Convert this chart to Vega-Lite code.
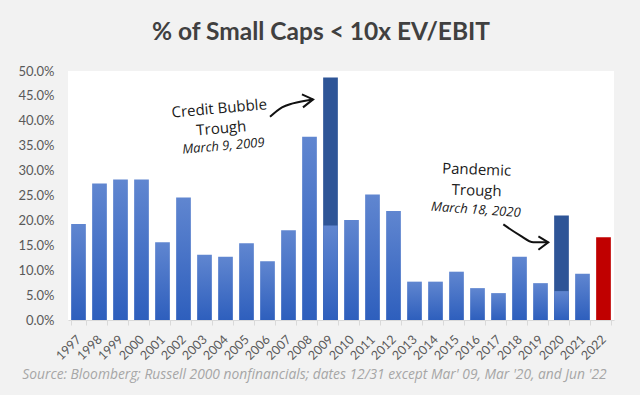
{
  "$schema": "https://vega.github.io/schema/vega-lite/v6.json",
  "width": 546,
  "height": 249,
  "autosize": {"type": "none"},
  "padding": {"left": 68, "top": 71, "right": 26, "bottom": 75},
  "background": "#f2f2f2",
  "config": {"view": {"fill": "white", "stroke": null}, "font": "Lato"},
  "title": {"text": "% of Small Caps < 10x EV/EBIT", "font": "Lato", "fontSize": 24.5, "fontWeight": "bold", "color": "#404040", "anchor": "middle", "dx": -20, "offset": 20},
  "datasets": {
    "bars": [
      {"year": "1997", "value": 0.193, "kind": "year-end"},
      {"year": "1998", "value": 0.274, "kind": "year-end"},
      {"year": "1999", "value": 0.282, "kind": "year-end"},
      {"year": "2000", "value": 0.282, "kind": "year-end"},
      {"year": "2001", "value": 0.156, "kind": "year-end"},
      {"year": "2002", "value": 0.246, "kind": "year-end"},
      {"year": "2003", "value": 0.131, "kind": "year-end"},
      {"year": "2004", "value": 0.127, "kind": "year-end"},
      {"year": "2005", "value": 0.154, "kind": "year-end"},
      {"year": "2006", "value": 0.118, "kind": "year-end"},
      {"year": "2007", "value": 0.180, "kind": "year-end"},
      {"year": "2008", "value": 0.368, "kind": "year-end"},
      {"year": "2009", "value": 0.487, "kind": "trough"},
      {"year": "2009", "value": 0.190, "kind": "year-end"},
      {"year": "2010", "value": 0.201, "kind": "year-end"},
      {"year": "2011", "value": 0.252, "kind": "year-end"},
      {"year": "2012", "value": 0.219, "kind": "year-end"},
      {"year": "2013", "value": 0.077, "kind": "year-end"},
      {"year": "2014", "value": 0.077, "kind": "year-end"},
      {"year": "2015", "value": 0.097, "kind": "year-end"},
      {"year": "2016", "value": 0.064, "kind": "year-end"},
      {"year": "2017", "value": 0.054, "kind": "year-end"},
      {"year": "2018", "value": 0.127, "kind": "year-end"},
      {"year": "2019", "value": 0.074, "kind": "year-end"},
      {"year": "2020", "value": 0.210, "kind": "trough"},
      {"year": "2020", "value": 0.058, "kind": "year-end"},
      {"year": "2021", "value": 0.093, "kind": "year-end"},
      {"year": "2022", "value": 0.166, "kind": "latest"}
    ],
    "notes": [
      {"note": "credit", "kind": "heading", "line": "Credit Bubble", "pos": 7.2, "val": 0.425},
      {"note": "credit", "kind": "heading", "line": "Trough", "pos": 7.3, "val": 0.385},
      {"note": "credit", "kind": "date", "line": "March 9, 2009", "pos": 7.4, "val": 0.349},
      {"note": "pandemic", "kind": "heading", "line": "Pandemic", "pos": 19.46, "val": 0.302},
      {"note": "pandemic", "kind": "heading", "line": "Trough", "pos": 19.46, "val": 0.260},
      {"note": "pandemic", "kind": "date", "line": "March 18, 2020", "pos": 19.42, "val": 0.221}
    ],
    "arrows": [
      {"note": "credit", "part": "shaft", "order": 1, "pos": 9.62, "val": 0.408},
      {"note": "credit", "part": "shaft", "order": 2, "pos": 10.19, "val": 0.427},
      {"note": "credit", "part": "shaft", "order": 3, "pos": 10.71, "val": 0.435},
      {"note": "credit", "part": "shaft", "order": 4, "pos": 11.67, "val": 0.443},
      {"note": "credit", "part": "head", "order": 1, "pos": 11.14, "val": 0.453},
      {"note": "credit", "part": "head", "order": 2, "pos": 11.67, "val": 0.443},
      {"note": "credit", "part": "head", "order": 3, "pos": 11.19, "val": 0.427},
      {"note": "pandemic", "part": "shaft", "order": 1, "pos": 20.73, "val": 0.192},
      {"note": "pandemic", "part": "shaft", "order": 2, "pos": 21.52, "val": 0.170},
      {"note": "pandemic", "part": "shaft", "order": 3, "pos": 22.16, "val": 0.156},
      {"note": "pandemic", "part": "shaft", "order": 4, "pos": 22.87, "val": 0.156},
      {"note": "pandemic", "part": "head", "order": 1, "pos": 22.40, "val": 0.168},
      {"note": "pandemic", "part": "head", "order": 2, "pos": 22.87, "val": 0.156},
      {"note": "pandemic", "part": "head", "order": 3, "pos": 22.40, "val": 0.141}
    ]
  },
  "resolve": {"scale": {"x": "independent"}, "axis": {"y": "independent"}},
  "layer": [
    {
      "data": {"name": "bars"},
      "encoding": {
        "x": {
          "field": "year", "type": "ordinal",
          "scale": {"paddingInner": 0.3, "paddingOuter": 0.15},
          "axis": {
            "title": "Source: Bloomberg; Russell 2000 nonfinancials; dates 12/31 except Mar' 09, Mar '20, and Jun '22",
            "labelAngle": -45, "labelAlign": "right", "labelBaseline": "middle",
            "labelFontSize": 12.5, "labelColor": "#595959", "labelFont": "Lato",
            "domainColor": "#d9d9d9", "tickColor": "#d9d9d9", "tickBand": "extent", "tickSize": 5,
            "labelPadding": 12,
            "titleFont": "Open Sans", "titleFontStyle": "italic", "titleFontWeight": "normal",
            "titleColor": "#a6a6a6", "titleFontSize": 13.8, "titlePadding": 5, "titleX": 246
          }
        },
        "y": {
          "field": "value", "type": "quantitative",
          "scale": {"domain": [0, 0.5], "nice": false},
          "axis": {
            "title": null, "format": ".1%",
            "values": [0, 0.05, 0.1, 0.15, 0.2, 0.25, 0.3, 0.35, 0.4, 0.45, 0.5],
            "domain": false, "ticks": false, "grid": false,
            "labelFontSize": 13, "labelColor": "#595959", "labelFont": "Lato", "labelPadding": 14
          }
        }
      },
      "layer": [
        {
          "transform": [{"filter": "datum.kind === 'trough'"}],
          "mark": {"type": "bar", "color": "#2e5597"}
        },
        {
          "transform": [{"filter": "datum.kind === 'year-end'"}],
          "mark": {"type": "bar", "color": {"gradient": "linear", "x1": 0, "y1": 0, "x2": 0, "y2": 1, "stops": [{"offset": 0, "color": "#6086d0"}, {"offset": 1, "color": "#2e5fbd"}]}}
        },
        {
          "transform": [{"filter": "datum.kind === 'latest'"}],
          "mark": {"type": "bar", "color": "#c00000"}
        }
      ]
    },
    {
      "layer": [
        {
          "data": {"name": "notes"},
          "transform": [{"filter": "datum.note === 'credit' && datum.kind === 'heading'"}],
          "mark": {"type": "text", "font": "Open Sans", "fontSize": 15, "color": "#1a1a1a", "angle": -5},
          "encoding": {
            "x": {"field": "pos", "type": "quantitative", "scale": {"domain": [0, 26], "nice": false, "zero": false}, "axis": null},
            "y": {"field": "val", "type": "quantitative", "axis": null},
            "text": {"field": "line"}
          }
        },
        {
          "data": {"name": "notes"},
          "transform": [{"filter": "datum.note === 'credit' && datum.kind === 'date'"}],
          "mark": {"type": "text", "font": "Open Sans", "fontSize": 13, "fontStyle": "italic", "color": "#1a1a1a", "angle": -5},
          "encoding": {
            "x": {"field": "pos", "type": "quantitative", "scale": {"domain": [0, 26], "nice": false, "zero": false}, "axis": null},
            "y": {"field": "val", "type": "quantitative", "axis": null},
            "text": {"field": "line"}
          }
        },
        {
          "data": {"name": "notes"},
          "transform": [{"filter": "datum.note === 'pandemic' && datum.kind === 'heading'"}],
          "mark": {"type": "text", "font": "Open Sans", "fontSize": 15, "color": "#1a1a1a", "angle": 2},
          "encoding": {
            "x": {"field": "pos", "type": "quantitative", "scale": {"domain": [0, 26], "nice": false, "zero": false}, "axis": null},
            "y": {"field": "val", "type": "quantitative", "axis": null},
            "text": {"field": "line"}
          }
        },
        {
          "data": {"name": "notes"},
          "transform": [{"filter": "datum.note === 'pandemic' && datum.kind === 'date'"}],
          "mark": {"type": "text", "font": "Open Sans", "fontSize": 13, "fontStyle": "italic", "color": "#1a1a1a", "angle": 4},
          "encoding": {
            "x": {"field": "pos", "type": "quantitative", "scale": {"domain": [0, 26], "nice": false, "zero": false}, "axis": null},
            "y": {"field": "val", "type": "quantitative", "axis": null},
            "text": {"field": "line"}
          }
        },
        {
          "data": {"name": "arrows"},
          "transform": [{"filter": "datum.part === 'shaft'"}],
          "mark": {"type": "line", "interpolate": "monotone", "color": "#111111", "strokeWidth": 2},
          "encoding": {
            "x": {"field": "pos", "type": "quantitative", "scale": {"domain": [0, 26], "nice": false, "zero": false}, "axis": null},
            "y": {"field": "val", "type": "quantitative", "axis": null},
            "detail": {"field": "note"},
            "order": {"field": "order"}
          }
        },
        {
          "data": {"name": "arrows"},
          "transform": [{"filter": "datum.part === 'head'"}],
          "mark": {"type": "line", "color": "#111111", "strokeWidth": 2, "strokeJoin": "miter"},
          "encoding": {
            "x": {"field": "pos", "type": "quantitative", "scale": {"domain": [0, 26], "nice": false, "zero": false}, "axis": null},
            "y": {"field": "val", "type": "quantitative", "axis": null},
            "detail": {"field": "note"},
            "order": {"field": "order"}
          }
        }
      ]
    }
  ]
}
